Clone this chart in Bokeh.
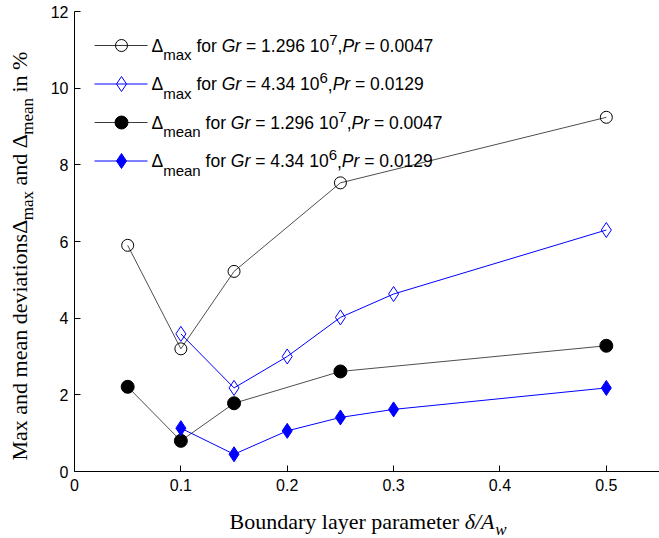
import math
from bokeh.plotting import figure
from bokeh.models import Range1d, Label, FixedTicker
from bokeh.layouts import row, column
from bokeh.embed import file_html
from bokeh.resources import INLINE

# ---------------- data ----------------
x_gr1 = [0.05, 0.10, 0.15, 0.25, 0.50]
dmax_gr1 = [5.90, 3.20, 5.22, 7.53, 9.24]
dmean_gr1 = [2.21, 0.80, 1.78, 2.61, 3.28]

x_gr2 = [0.10, 0.15, 0.20, 0.25, 0.30, 0.50]
dmax_gr2 = [3.59, 2.18, 3.00, 4.02, 4.63, 6.30]
dmean_gr2 = [1.13, 0.45, 1.06, 1.41, 1.62, 2.18]

x_ticks = [0, 0.1, 0.2, 0.3, 0.4, 0.5]
x_tick_labels = ["0", "0.1", "0.2", "0.3", "0.4", "0.5"]
y_ticks = [0, 2, 4, 6, 8, 10, 12]

# ---------------- layout (page pixels) ----------------
PAGE_W, PAGE_H = 659, 538
YLAB_W = 44                 # strip holding the y title
MAIN_H = 505                # main figure height
XLAB_H = PAGE_H - MAIN_H    # strip holding the x title
L, T = 74, 11               # frame left / top on the page
FW, FH = 585, 460
BOTTOM = T + FH             # page y of the x axis
XMAX, YMAX = 0.55, 12.0
BASE = 0.33                 # label anchor sits this many em above the baseline

def px_x(px):
    return (px - L) / FW * XMAX

def px_y(py):
    return (BOTTOM - py) / FH * YMAX

p = figure(width=PAGE_W - YLAB_W, height=MAIN_H, output_backend="svg",
           toolbar_location=None,
           x_range=Range1d(0, XMAX), y_range=Range1d(0, YMAX),
           min_border_left=L - YLAB_W, min_border_right=0, min_border_top=T,
           min_border_bottom=MAIN_H - BOTTOM)
p.outline_line_color = None
p.grid.visible = False
p.background_fill_color = "white"
p.border_fill_color = "white"

for ax in (p.xaxis, p.yaxis):
    ax.axis_line_color = "black"
    ax.axis_line_width = 1
    ax.major_tick_line_color = "black"
    ax.major_tick_in = 6
    ax.major_tick_out = 0
    ax.minor_tick_line_color = None
    ax.major_label_text_font = "Liberation Sans"
    ax.major_label_text_font_size = "16px"
    ax.major_label_text_color = "black"
p.xaxis.ticker = FixedTicker(ticks=x_ticks)
p.xaxis.major_label_overrides = {t: s for t, s in zip(x_ticks, x_tick_labels)}
p.yaxis.ticker = FixedTicker(ticks=y_ticks)
p.xaxis.major_label_standoff = 7
p.yaxis.major_label_standoff = 6

BLACK_LINE = "#3a3a3a"
BLUE = "#0000ff"

# ---------------- series ----------------
p.line(x_gr1, dmax_gr1, line_color=BLACK_LINE, line_width=0.9)
p.scatter(x_gr1, dmax_gr1, marker="circle", size=12, line_color="black",
          fill_color=None, line_width=1)
p.line(x_gr2, dmax_gr2, line_color=BLUE, line_width=1)
p.scatter(x_gr2, dmax_gr2, marker="diamond", size=15, line_color=BLUE,
          fill_color=None, line_width=1)
p.line(x_gr1, dmean_gr1, line_color=BLACK_LINE, line_width=0.9)
p.scatter(x_gr1, dmean_gr1, marker="circle", size=13, line_color="black",
          fill_color="black")
p.line(x_gr2, dmean_gr2, line_color=BLUE, line_width=1)
p.scatter(x_gr2, dmean_gr2, marker="diamond", size=15, line_color=BLUE,
          fill_color=BLUE)

# ---------------- rich text helpers ----------------
SANS_W = {" ": 278, "%": 889, ",": 278, ".": 278, "/": 278, "=": 584,
          "A": 667, "G": 778, "P": 667, "a": 556, "e": 556, "f": 278,
          "m": 833, "n": 556, "o": 556, "r": 333, "x": 500, "\u0394": 668}
SERIF_W = {" ": 250, "%": 833, "M": 889, "a": 444, "x": 500, "n": 500,
           "d": 500, "m": 778, "e": 444, "v": 500, "i": 278, "t": 278,
           "o": 500, "s": 389, "\u0394": 612, "B": 667, "u": 500, "r": 333,
           "y": 500, "l": 278, "p": 500, "w": 667, "\u03b4": 500, "/": 278,
           "A": 611}

def tw(s, table, size):
    dflt = 556 if table is SANS_W else 500
    return sum(table.get(c, dflt) for c in s) / 1000 * size

def layout_pieces(pieces, x0, y0, table, vertical=False):
    """Baseline-start (x0, y0) in page pixels -> label anchors in page pixels."""
    out = []
    pos = 0.0
    for text, size, style, shift in pieces:
        stripped = text.strip(" ")
        lead = len(text) - len(text.lstrip(" "))
        trail = len(text) - len(text.rstrip(" "))
        pos += tw(" " * lead, table, size)
        lift = BASE * size
        if vertical:
            sx, sy = x0 + shift - lift, y0 - pos
        else:
            sx, sy = x0 + pos, y0 + shift - lift
        out.append((sx, sy, stripped, size, style))
        pos += tw(stripped, table, size) + tw(" " * trail, table, size)
    return out

def add_labels(fig, placed, fx, fy, font, angle=0.0):
    for sx, sy, txt, size, style in placed:
        fig.add_layout(Label(x=fx(sx), y=fy(sy), text=txt, text_font=font,
                             text_font_size=f"{size}px", text_font_style=style,
                             text_color="black", text_baseline="alphabetic",
                             text_align="left", angle=angle))

# ---------------- legend (inside the frame) ----------------
LF = 17.5
SUB = 15
leg_labels = [
    ("max", "1.296", "7", "0.0047"),
    ("max", "4.34", "6", "0.0129"),
    ("mean", "1.296", "7", "0.0047"),
    ("mean", "4.34", "6", "0.0129"),
]
leg_style = [
    dict(marker="circle", size=12, line_color="black", fill_color=None, lc=BLACK_LINE),
    dict(marker="diamond", size=15, line_color=BLUE, fill_color=None, lc=BLUE),
    dict(marker="circle", size=13, line_color="black", fill_color="black", lc=BLACK_LINE),
    dict(marker="diamond", size=15, line_color=BLUE, fill_color=BLUE, lc=BLUE),
]
row_y = [45, 83.5, 122, 160.5]
for (sub, gr, ex, pr), st, ry in zip(leg_labels, leg_style, row_y):
    p.line([px_x(94), px_x(147)], [px_y(ry), px_y(ry)], line_color=st["lc"],
           line_width=1)
    p.scatter([px_x(121)], [px_y(ry)], marker=st["marker"], size=st["size"],
              line_color=st["line_color"], fill_color=st["fill_color"],
              line_width=1)
    pieces = [
        ("\u0394", LF, "normal", 0),
        (sub, SUB, "normal", 8),
        (" for ", LF, "normal", 0),
        ("Gr", LF, "italic", 0),
        (" = " + gr + " 10", LF, "normal", 0),
        (ex, SUB, "normal", -7),
        (",", LF, "normal", 0),
        ("Pr", LF, "italic", 0),
        (" = " + pr, LF, "normal", 0),
    ]
    add_labels(p, layout_pieces(pieces, 151, ry + 6, SANS_W), px_x, px_y,
               "Liberation Sans")

# ---------------- axis titles (separate text strips) ----------------
def strip(w, h, yr, **kw):
    f = figure(width=w, height=h, output_backend="svg", toolbar_location=None,
               x_range=Range1d(0, w), y_range=yr, x_axis_type=None,
               y_axis_type=None, **kw)
    f.outline_line_color = None
    f.grid.visible = False
    f.background_fill_color = "white"
    f.border_fill_color = "white"
    return f

AF = 22
AS = 17

# the y strip's frame is aligned with the main frame (page y T..BOTTOM)
yfig = strip(YLAB_W, MAIN_H, Range1d(0, FH), min_border_left=0,
             min_border_right=0, min_border_top=T,
             min_border_bottom=MAIN_H - BOTTOM)
yl = [
    ("Max and mean deviations", AF, "normal", 0),
    ("\u0394", AF, "normal", 0),
    ("max", AS, "normal", 7),
    (" and ", AF, "normal", 0),
    ("\u0394", AF, "normal", 0),
    ("mean", AS, "normal", 7),
    (" in %", AF, "normal", 0),
]
add_labels(yfig, layout_pieces(yl, 26, 460, SERIF_W, vertical=True),
           lambda sx: sx, lambda sy: BOTTOM - sy, "Liberation Serif",
           angle=math.pi / 2)

xfig = strip(PAGE_W, XLAB_H, Range1d(0, XLAB_H), min_border=0)
xl = [
    ("Boundary layer parameter ", AF, "normal", 0),
    ("\u03b4/A", AF, "italic", 0),
    ("w", AS, "italic", 7),
]
add_labels(xfig, layout_pieces(xl, 229, 528, SERIF_W),
           lambda sx: sx, lambda sy: PAGE_H - sy, "Liberation Serif")

page = column(row(yfig, p, spacing=0), xfig, spacing=0)
open("out.html", "w").write(file_html(page, INLINE))
